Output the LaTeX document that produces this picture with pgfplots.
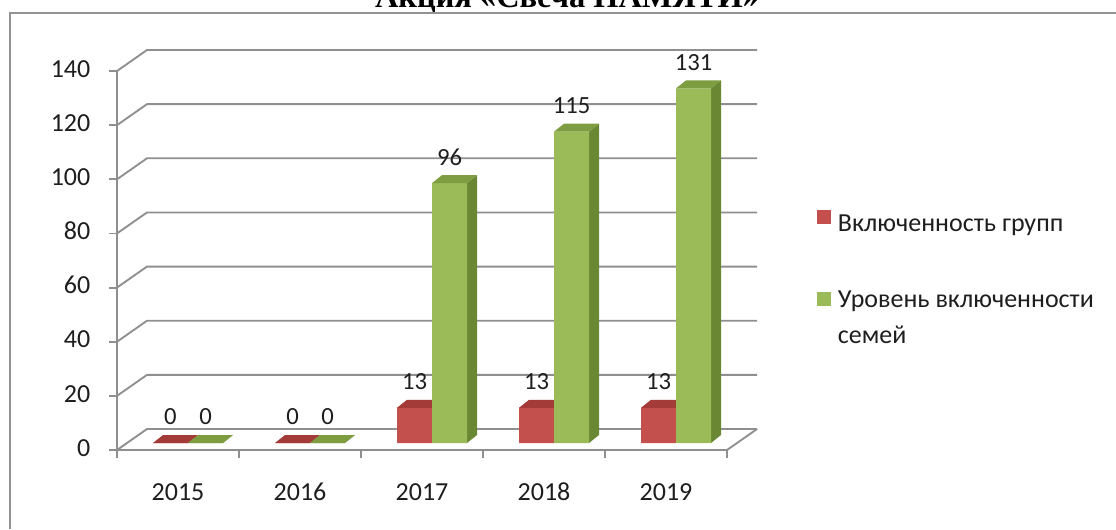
\documentclass[border=0pt]{standalone}
\usepackage{pgfplots}
\pgfplotsset{compat=1.18}
\usepackage{pgfplotstable}
\usepackage{fontspec}
\setmainfont{Carlito}
\newfontfamily\titlefont{Liberation Serif}

\definecolor{redF}{HTML}{C4504D}
\definecolor{redT}{HTML}{A33C39}
\definecolor{redS}{HTML}{8E302E}
\definecolor{grnF}{HTML}{9BBB59}
\definecolor{grnT}{HTML}{7E9C40}
\definecolor{grnS}{HTML}{6A8833}
\definecolor{gridc}{HTML}{8F8F8F}
\definecolor{txt}{HTML}{1E1E1E}

% x = category index (2015..2019), g = groups, f = families
\pgfplotstableread{
x g f
0 0 0
1 0 0
2 13 96
3 13 115
4 13 131
}\data

% bar geometry (axis units): width 26.25pt = 0.286885, depth dx 7.5pt = 0.081967, dy 6pt = 2.95515
\newcommand\sideface[3]{% #1 row, #2 column, #3 side: 0 red / 1 green
  \pgfplotstablegetelem{#1}{#2}\of\data \let\vv\pgfplotsretval
  \pgfmathsetmacro\xr{#1+#3*0.286885}
  \pgfmathsetmacro\xrd{\xr+0.081967}
  \pgfmathsetmacro\vt{\vv+2.95515}
  \edef\tmp{\noexpand\addplot[side#2] coordinates {(\xr,0) (\xr,\vv) (\xrd,\vt) (\xrd,2.95515)} -- cycle;}
  \tmp
}
\newcommand\topface[3]{%
  \pgfplotstablegetelem{#1}{#2}\of\data \let\vv\pgfplotsretval
  \pgfmathsetmacro\xr{#1+#3*0.286885}
  \pgfmathsetmacro\xl{\xr-0.286885}
  \pgfmathsetmacro\xrd{\xr+0.081967}
  \pgfmathsetmacro\xld{\xl+0.081967}
  \pgfmathsetmacro\vt{\vv+2.95515}
  \edef\tmp{\noexpand\addplot[top#2] coordinates {(\xl,\vv) (\xr,\vv) (\xrd,\vt) (\xld,\vt)} -- cycle;}
  \tmp
}

\begin{document}
\begin{tikzpicture}
\useasboundingbox (0,0) rectangle (837pt,-396.75pt);
\begin{scope}
\clip (0,0) rectangle (837pt,-396.75pt);
\node[font=\titlefont\bfseries\fontsize{24.3}{28}\selectfont, anchor=base, text=black] at (425.25pt,-5.25pt) {Акция «Свеча ПАМЯТИ»};
\end{scope}
\draw[gray!85, line width=1.5pt] (7.5pt,-396.75pt) -- (7.5pt,-9.75pt) -- (837pt,-9.75pt);

\begin{axis}[
  at={(87.75pt,-337.5pt)}, anchor=south west,
  scale only axis, width=457.5pt, height=284.25pt,
  xmin=-0.5, xmax=4.5, ymin=0, ymax=140,
  clip=false,
  axis lines=left,
  axis line style={-, draw=gridc, line width=1.4pt},
  xtick={0,1,2,3,4},
  xticklabels={2015,2016,2017,2018,2019},
  minor xtick={-0.5,0.5,1.5,2.5,3.5,4.5},
  ytick={0,20,40,60,80,100,120,140},
  tick align=outside,
  major tick length=6pt,
  minor tick length=6pt,
  major x tick style={draw=none},
  tick style={draw=gridc, line width=1.4pt},
  typeset ticklabels with strut,
  ticklabel style={font=\fontsize{19.5}{23}\selectfont, text=txt},
  xticklabel style={yshift=-12pt},
  yticklabel style={xshift=-10.5pt},
  /pgf/number format/assume math mode=true,
  side g/.style={fill=redS, draw=none, forget plot, xshift=7.5pt, yshift=5.25pt},
  side f/.style={fill=grnS, draw=none, forget plot, xshift=7.5pt, yshift=5.25pt},
  top g/.style={fill=redT, draw=none, forget plot, xshift=7.5pt, yshift=5.25pt},
  top f/.style={fill=grnT, draw=none, forget plot, xshift=7.5pt, yshift=5.25pt},
  sideg/.style={side g}, sidef/.style={side f}, topg/.style={top g}, topf/.style={top f},
  nodes near coords style={anchor=center, yshift=19.5pt, font=\fontsize{18.5}{22}\selectfont, text=txt},
  legend style={draw=none, fill=none, at={(rel axis cs:1.141,0.64)}, anchor=north west,
    cells={anchor=west, align=left}, font=\fontsize{19.5}{27}\selectfont, text=txt, row sep=39pt,
    /tikz/every odd column/.append style={column sep=3pt}},
]
% back wall grid lines and floor
\pgfplotsinvokeforeach{0,20,40,60,80,100,120,140}{
  \draw[gridc, line width=1.4pt] (axis cs:-0.5,#1) -- ++(22.5pt,15.75pt) -- ([xshift=22.5pt,yshift=15.75pt]axis cs:4.5,#1);
}
\draw[gridc, line width=1.4pt] (axis cs:4.5,0) -- ++(22.5pt,15.75pt);

% red series
\pgfplotsinvokeforeach{0,...,4}{\sideface{#1}{g}{0}}
\addplot[ybar, bar width=26.25pt, bar shift=-13.125pt, fill=redF, draw=none,
  xshift=7.5pt, yshift=5.25pt, nodes near coords,
  every node near coord/.append style={xshift=-13.125pt},
  legend image code/.code={\fill[redF] (0pt,-5.25pt) rectangle (10.5pt,5.25pt);}]
  table[x=x, y=g] {\data};
\addlegendentry{Включенность групп}
\pgfplotsinvokeforeach{0,...,4}{\topface{#1}{g}{0}}

% green series
\pgfplotsinvokeforeach{0,...,4}{\sideface{#1}{f}{1}}
\addplot[ybar, bar width=26.25pt, bar shift=13.125pt, fill=grnF, draw=none,
  xshift=7.5pt, yshift=5.25pt, nodes near coords,
  every node near coord/.append style={xshift=13.125pt},
  legend image code/.code={\fill[grnF] (0pt,3.75pt) rectangle (10.5pt,14.25pt);}]
  table[x=x, y=f] {\data};
\addlegendentry{Уровень включенности\\семей}
\pgfplotsinvokeforeach{0,...,4}{\topface{#1}{f}{1}}
\end{axis}
\end{tikzpicture}
\end{document}
